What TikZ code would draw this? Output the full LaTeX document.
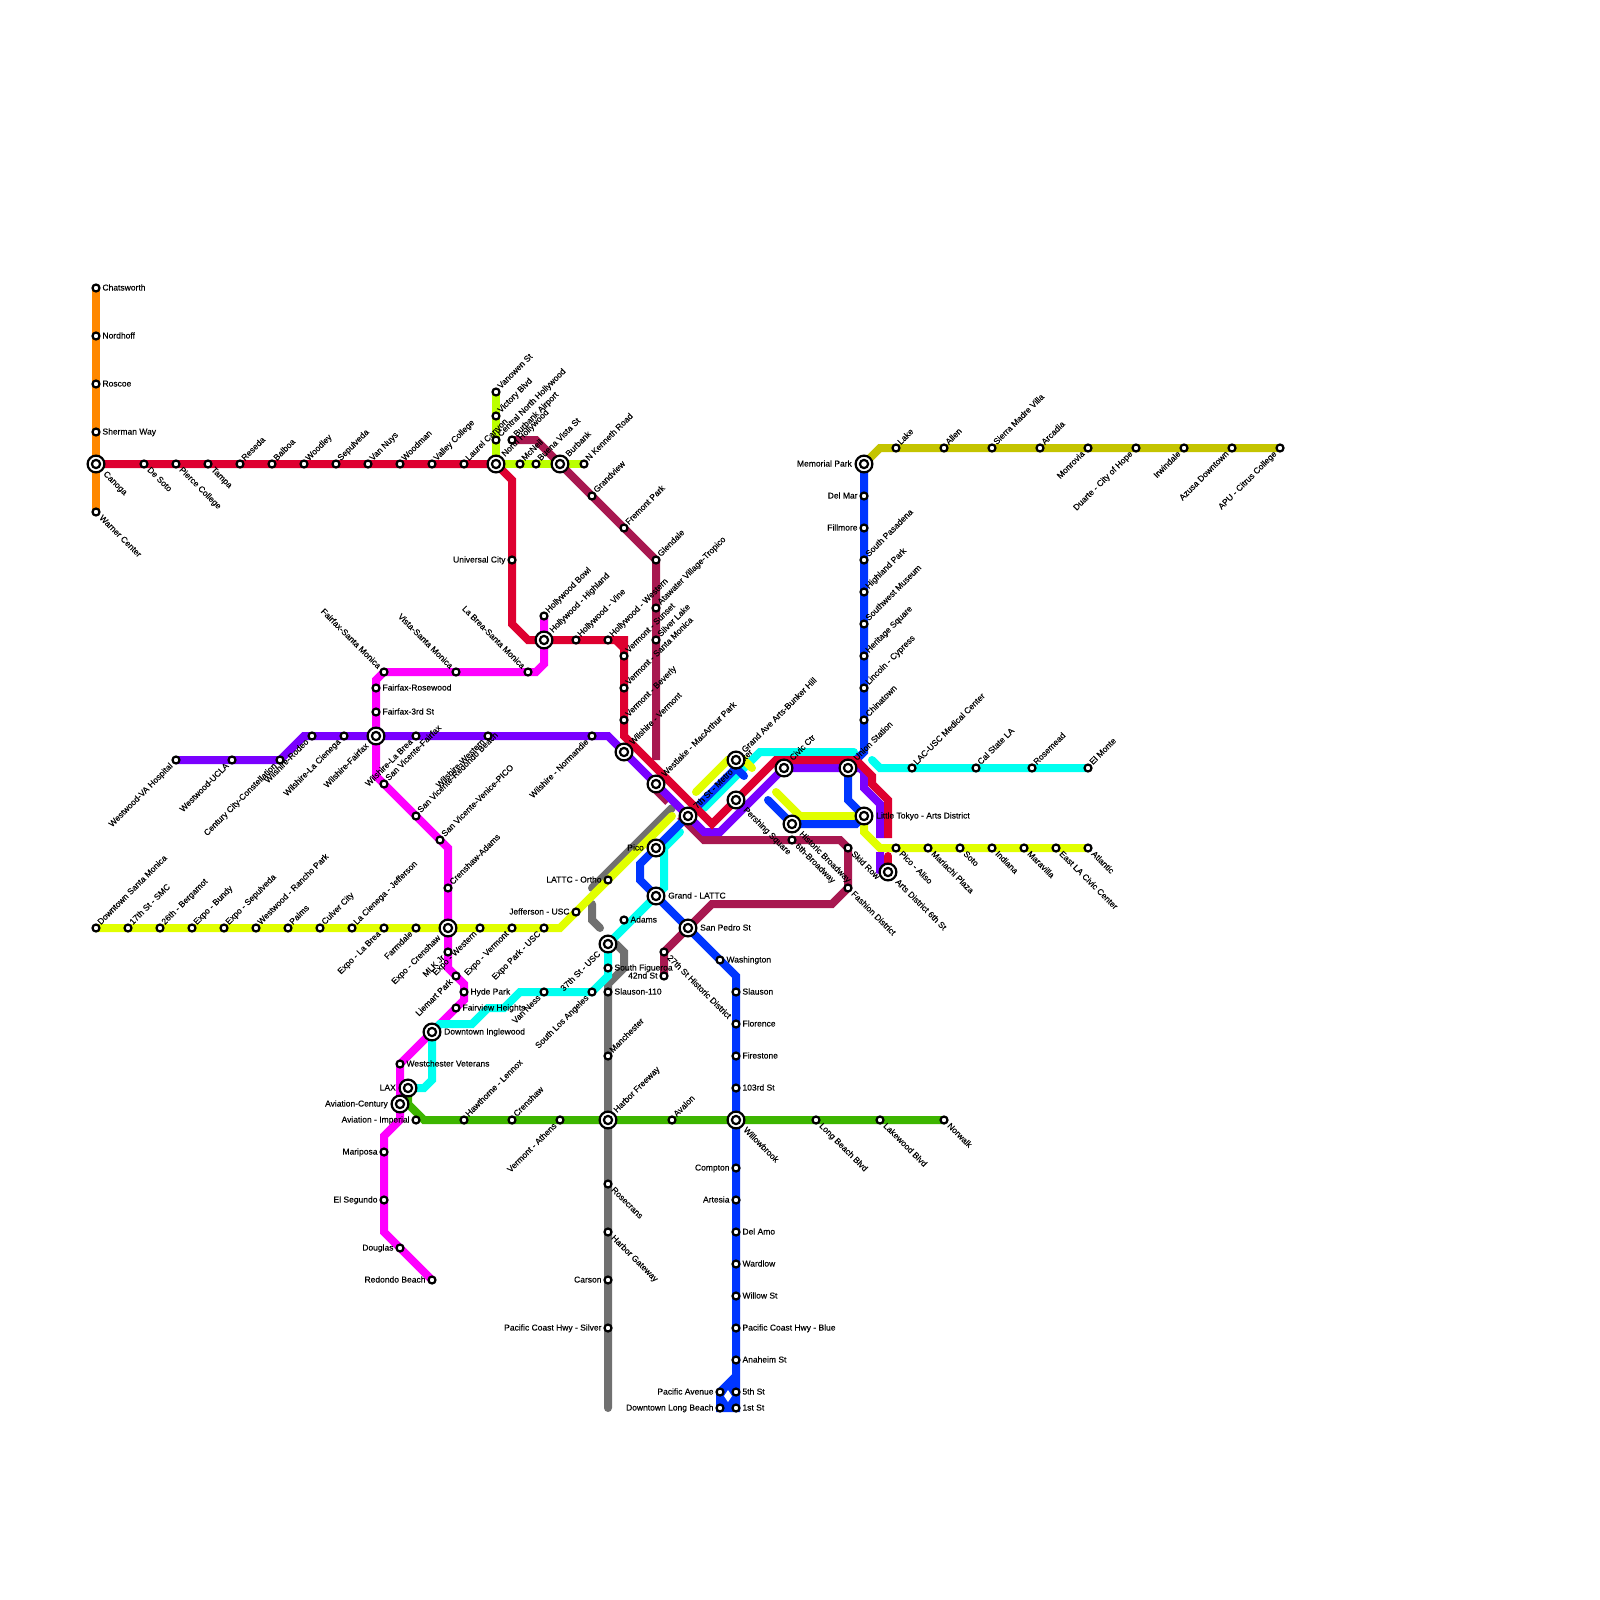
\documentclass[tikz,border=0pt]{standalone}
\usepackage{fontspec}
\setmainfont[FakeBold=0.12]{Liberation Sans}
\usetikzlibrary{calc}
\pgfdeclarelayer{lines}
\pgfsetlayers{lines,main}
\definecolor{cred}{HTML}{DE0030}
\definecolor{cpurple}{HTML}{7A00FF}
\definecolor{cmag}{HTML}{FF00FF}
\definecolor{ccyan}{HTML}{00FFF0}
\definecolor{cblue}{HTML}{0036FF}
\definecolor{cyel}{HTML}{E1FF00}
\definecolor{clime}{HTML}{BBFF00}
\definecolor{corange}{HTML}{FF8800}
\definecolor{cmaroon}{HTML}{A81850}
\definecolor{cgray}{HTML}{707070}
\definecolor{cgreen}{HTML}{3DB500}
\definecolor{colive}{HTML}{C4C400}
\tikzset{
  metro/.style={line width=8pt,line join=miter,miter limit=10,line cap=round},
  flat/.style={metro,line cap=butt},
  halt/.style={circle,draw=black,fill=white,line width=2.2pt,minimum size=7pt,inner sep=0pt},
  hub/.style={circle,draw=black,fill=white,line width=2.2pt,minimum size=16.8pt,inner sep=0pt},
  hubcore/.style={circle,draw=black,fill=white,line width=2.2pt,minimum size=8.2pt,inner sep=0pt},
  lab/.style={inner sep=0pt,font=\fontsize{8.5}{10}\selectfont,text=black,text height=6.5pt,text depth=1.5pt},
}
% \St{name}{x}{y}{dir}{label}, \Hb the same for an interchange
\newcommand{\PutLab}[3]{% dir, distance, text; uses \curname
  \ifcase#1\relax
    \node[lab,anchor=west] at ($(\curname.center)+(#2,0)$) {#3};\or
    \node[lab,anchor=east] at ($(\curname.center)+(-#2,0)$) {#3};\or
    \node[lab,anchor=west,rotate=45] at ($(\curname.center)+(#2*0.72-1.5,-#2*0.72)$) {#3};\or
    \node[lab,anchor=west,rotate=-45] at ($(\curname.center)+(#2*0.72,#2*0.72)$) {#3};\or
    \node[lab,anchor=east,rotate=45] at ($(\curname.center)+(-#2*0.72,#2*0.72)$) {#3};\or
    \node[lab,anchor=east,rotate=-45] at ($(\curname.center)+(-#2*0.72,-#2*0.72)$) {#3};\fi}
\newcommand{\St}[5]{\node[halt] (#1) at (#2,#3) {};\def\curname{#1}\PutLab{#4}{6.3}{#5}}
\newcommand{\Hb}[5]{\node[hub] (#1) at (#2,#3) {};\node[hubcore] (#1c) at (#2,#3) {};\def\curname{#1}\PutLab{#4}{12}{#5}}
\begin{document}
\begin{tikzpicture}[x=1pt,y=-1pt]
\useasboundingbox (0,0) rectangle (1600,1600);
% directions: 0 E, 1 W, 2 NE, 3 SE, 4 SW, 5 NW
\St{chatsworth}{96}{288}{0}{Chatsworth}
\St{nordhoff}{96}{336}{0}{Nordhoff}
\St{roscoe}{96}{384}{0}{Roscoe}
\St{sherman}{96}{432}{0}{Sherman Way}
\Hb{canoga}{96}{464}{3}{Canoga}
\St{warner}{96}{512}{3}{Warner Center}
\St{desoto}{144}{464}{3}{De Soto}
\St{pierce}{176}{464}{3}{Pierce College}
\St{tampa}{208}{464}{3}{Tampa}
\St{reseda}{240}{464}{2}{Reseda}
\St{balboa}{272}{464}{2}{Balboa}
\St{woodley}{304}{464}{2}{Woodley}
\St{sepulveda}{336}{464}{2}{Sepulveda}
\St{vannuys}{368}{464}{2}{Van Nuys}
\St{woodman}{400}{464}{2}{Woodman}
\St{valley}{432}{464}{2}{Valley College}
\St{laurel}{464}{464}{2}{Laurel Canyon}
\Hb{nohollywood}{496}{464}{2}{North Hollywood}
\St{vanowen}{496}{392}{2}{Vanowen St}
\St{victory}{496}{416}{2}{Victory Blvd}
\St{centralnh}{496}{440}{2}{Central North Hollywood}
\St{burbankair}{512}{440}{2}{Burbank Airport}
\St{mcneil}{520}{464}{2}{McNeil}
\St{buenavista}{536}{464}{2}{Buena Vista St}
\Hb{burbank}{560}{464}{2}{Burbank}
\St{kenneth}{584}{464}{2}{N Kenneth Road}
\St{grandview}{592}{496}{2}{Grandview}
\St{fremont}{624}{528}{2}{Fremont Park}
\St{glendale}{656}{560}{2}{Glendale}
\St{atwater}{656}{608}{2}{Atawater Village-Tropico}
\St{silverlake}{656}{640}{2}{Silver Lake}
\St{universal}{512}{560}{1}{Universal City}
\St{bowl}{544}{616}{2}{Hollywood Bowl}
\Hb{highland}{544}{640}{2}{Hollywood - Highland}
\St{vine}{576}{640}{2}{Hollywood - Vine}
\St{hwestern}{608}{640}{2}{Hollywood - Western}
\St{vsunset}{624}{656}{2}{Vermont - Sunset}
\St{vsanta}{624}{688}{2}{Vermont - Santa Monica}
\St{vbeverly}{624}{720}{2}{Vermont - Beverly}
\Hb{wvermont}{624}{752}{2}{Wilshire - Vermont}
\Hb{westlake}{656}{784}{2}{Westlake - MacArthur Park}
\Hb{seventh}{688}{816}{2}{7th St - Metro Center}
\Hb{grandave}{736}{760}{2}{Grand Ave Arts-Bunker Hill}
\Hb{pershing}{736}{800}{3}{Pershing Square}
\Hb{civic}{784}{768}{2}{Civic Ctr}
\Hb{union}{848}{768}{2}{Union Station}
\Hb{tokyo}{864}{816}{0}{Little Tokyo - Arts District}
\Hb{historic}{792}{824}{3}{Historic Broadway}
\St{sixth}{792}{840}{3}{6th-Broadway}
\St{skid}{848}{848}{3}{Skid Row}
\St{fashion}{848}{888}{3}{Fashion District}
\Hb{arts}{888}{872}{3}{Arts District 6th St}
\St{aliso}{896}{848}{3}{Pico - Aliso}
\St{mariachi}{928}{848}{3}{Mariachi Plaza}
\St{soto}{960}{848}{3}{Soto}
\St{indiana}{992}{848}{3}{Indiana}
\St{maravilla}{1024}{848}{3}{Maravilla}
\St{eastla}{1056}{848}{3}{East LA Civic Center}
\St{atlantic}{1088}{848}{3}{Atlantic}
\Hb{memorial}{864}{464}{1}{Memorial Park}
\St{delmar}{864}{496}{1}{Del Mar}
\St{fillmore}{864}{528}{1}{Fillmore}
\St{spasadena}{864}{560}{2}{South Pasadena}
\St{highlandpk}{864}{592}{2}{Highland Park}
\St{swmuseum}{864}{624}{2}{Southwest Museum}
\St{heritage}{864}{656}{2}{Heritage Square}
\St{lincoln}{864}{688}{2}{Lincoln - Cypress}
\St{chinatown}{864}{720}{2}{Chinatown}
\St{lake}{896}{448}{2}{Lake}
\St{allen}{944}{448}{2}{Allen}
\St{sierra}{992}{448}{2}{Sierra Madre Villa}
\St{arcadia}{1040}{448}{2}{Arcadia}
\St{monrovia}{1088}{448}{4}{Monrovia}
\St{duarte}{1136}{448}{4}{Duarte - City of Hope}
\St{irwindale}{1184}{448}{4}{Irwindale}
\St{azusa}{1232}{448}{4}{Azusa Downtown}
\St{apu}{1280}{448}{4}{APU - Citrus College}
\St{lacusc}{912}{768}{2}{LAC-USC Medical Center}
\St{calstate}{976}{768}{2}{Cal State LA}
\St{rosemead}{1032}{768}{2}{Rosemead}
\St{elmonte}{1088}{768}{2}{El Monte}
\St{vahospital}{176}{760}{4}{Westwood-VA Hospital}
\St{ucla}{232}{760}{4}{Westwood-UCLA}
\St{century}{280}{760}{4}{Century City-Constellation}
\St{rodeo}{312}{736}{4}{Wilshire-Rodeo}
\St{lacienega}{344}{736}{4}{Wilshire-La Cienega}
\Hb{wfairfax}{376}{736}{4}{Wilshire-Fairfax}
\St{labrea}{416}{736}{4}{Wilshire-La Brea}
\St{wwestern}{488}{736}{4}{Wilshire-Western}
\St{normandie}{592}{736}{4}{Wilshire - Normandie}
\St{fairfaxsm}{384}{672}{5}{Fairfax-Santa Monica}
\St{vistasm}{456}{672}{5}{Vista-Santa Monica}
\St{labreasm}{528}{672}{5}{La Brea-Santa Monica}
\St{rosewood}{376}{688}{0}{Fairfax-Rosewood}
\St{third}{376}{712}{0}{Fairfax-3rd St}
\St{svfairfax}{384}{784}{2}{San Vicente-Fairfax}
\St{svredondo}{416}{816}{2}{San Vicente-Redondo Beach}
\St{svvenice}{440}{840}{2}{San Vicente-Venice-PICO}
\St{crenadams}{448}{888}{2}{Crenshaw-Adams}
\St{santamonica}{96}{928}{2}{Downtown Santa Monica}
\St{smc}{128}{928}{2}{17th St - SMC}
\St{bergamot}{160}{928}{2}{26th - Bergamot}
\St{bundy}{192}{928}{2}{Expo - Bundy}
\St{exposep}{224}{928}{2}{Expo - Sepulveda}
\St{rancho}{256}{928}{2}{Westwood - Rancho Park}
\St{palms}{288}{928}{2}{Palms}
\St{culver}{320}{928}{2}{Culver City}
\St{lacjeff}{352}{928}{2}{La Cienega - Jefferson}
\St{expolabrea}{384}{928}{4}{Expo - La Brea}
\St{farmdale}{416}{928}{4}{Farmdale}
\Hb{expocren}{448}{928}{4}{Expo - Crenshaw}
\St{expowest}{480}{928}{4}{Expo - Western}
\St{expoverm}{512}{928}{4}{Expo - Vermont}
\St{expopark}{544}{928}{4}{Expo Park - USC}
\St{jefferson}{576}{912}{1}{Jefferson - USC}
\St{ortho}{608}{880}{1}{LATTC - Ortho}
\Hb{pico}{656}{848}{1}{Pico}
\Hb{grandlattc}{656}{896}{0}{Grand - LATTC}
\Hb{sanpedro}{688}{928}{0}{San Pedro St}
\St{adams}{624}{920}{0}{Adams}
\Hb{thirtyseven}{608}{944}{4}{37th St - USC}
\St{sfig}{608}{968}{0}{South Figueroa}
\St{twentyseven}{664}{952}{3}{27th St Historic District}
\St{fortytwo}{664}{976}{1}{42nd St}
\St{slauson}{608}{992}{0}{Slauson-110}
\St{manchester}{608}{1056}{2}{Manchester}
\Hb{harbor}{608}{1120}{2}{Harbor Freeway}
\St{rosecrans}{608}{1184}{3}{Rosecrans}
\St{gateway}{608}{1232}{3}{Harbor Gateway}
\St{carson}{608}{1280}{1}{Carson}
\St{pchsilver}{608}{1328}{1}{Pacific Coast Hwy - Silver}
\St{washington}{720}{960}{0}{Washington}
\St{bslauson}{736}{992}{0}{Slauson}
\St{florence}{736}{1024}{0}{Florence}
\St{firestone}{736}{1056}{0}{Firestone}
\St{third103}{736}{1088}{0}{103rd St}
\Hb{willowbrook}{736}{1120}{3}{Willowbrook}
\St{compton}{736}{1168}{1}{Compton}
\St{artesia}{736}{1200}{1}{Artesia}
\St{delamo}{736}{1232}{0}{Del Amo}
\St{wardlow}{736}{1264}{0}{Wardlow}
\St{willowst}{736}{1296}{0}{Willow St}
\St{pchblue}{736}{1328}{0}{Pacific Coast Hwy - Blue}
\St{anaheim}{736}{1360}{0}{Anaheim St}
\St{fifth}{736}{1392}{0}{5th St}
\St{first}{736}{1408}{0}{1st St}
\St{pacificave}{720}{1392}{1}{Pacific Avenue}
\St{longbeach}{720}{1408}{1}{Downtown Long Beach}
\St{avalon}{672}{1120}{2}{Avalon}
\St{lbblvd}{816}{1120}{3}{Long Beach Blvd}
\St{lakewood}{880}{1120}{3}{Lakewood Blvd}
\St{norwalk}{944}{1120}{3}{Norwalk}
\St{athens}{560}{1120}{4}{Vermont - Athens}
\St{crenshaw}{512}{1120}{2}{Crenshaw}
\St{hawthorne}{464}{1120}{2}{Hawthorne - Lennox}
\St{imperial}{416}{1120}{1}{Aviation - Imperial}
\Hb{lax}{408}{1088}{1}{LAX}
\Hb{century2}{400}{1104}{1}{Aviation-Century}
\Hb{inglewood}{432}{1032}{0}{Downtown Inglewood}
\St{westchester}{400}{1064}{0}{Westchester Veterans}
\St{vanness}{544}{992}{4}{Van Ness}
\St{southla}{592}{992}{4}{South Los Angeles}
\St{mlk}{448}{952}{4}{MLK Jr}
\St{liemart}{456}{976}{4}{Liemart Park}
\St{hyde}{464}{992}{0}{Hyde Park}
\St{fairview}{456}{1008}{0}{Fairview Heights}
\St{mariposa}{384}{1152}{1}{Mariposa}
\St{elsegundo}{384}{1200}{1}{El Segundo}
\St{douglas}{400}{1248}{1}{Douglas}
\St{redondo}{432}{1280}{1}{Redondo Beach}
\begin{pgfonlayer}{lines}
\fill[white] (0,0) rectangle (1600,1600);
% orange
\draw[metro,corange] (chatsworth.center) -- (warner.center);
% lime
\draw[flat,clime] (vanowen.center) -- (nohollywood.center) -- (kenneth.center);
% olive
\draw[flat,colive] (memorial.center) -- (880,448) -- (apu.center);
% green
\draw[flat,cgreen] (lax.center) -- (408,1104) -- (424,1120) -- (norwalk.center);
% gray
\draw[metro,cgray] (592,888) -- (672,808);
\draw[metro,cgray] (592,904) -- (592,920) -- (600,928);
\draw[metro,cgray] (616,944) -- (624,952) -- (624,968) -- (608,984) -- (608,1408);
% magenta
\draw[flat,cmag] (bowl.center) -- (544,664) -- (536,672) -- (fairfaxsm.center) -- (376,680) -- (376,776) -- (440,840) -- (448,848) -- (448,968) -- (464,984) -- (464,1000) -- (inglewood.center) -- (westchester.center) -- (400,1120) -- (384,1136) -- (384,1232) -- (redondo.center);
% cyan
\draw[flat,ccyan] (thirtyseven.center) -- (608,976) -- (southla.center) -- (520,992) -- (504,1008) -- (488,1008) -- (472,1024) -- (440,1024) -- (inglewood.center) -- (432,1080) -- (424,1088) -- (lax.center);
\draw[metro,ccyan] (thirtyseven.center) -- (664,888) -- (664,848) -- (680,832);
\draw[metro,ccyan] (704,808) -- (752,760) -- (760,752) -- (854,752);
\draw[metro,ccyan] (872,760) -- (880,768) -- (elmonte.center);
% yellow
\draw[metro,cyel] (santamonica.center) -- (560,928) -- (672,816);
\draw[metro,cyel] (696,792) -- (728,760) -- (744,760) -- (752,768);
\draw[metro,cyel] (776,792) -- (800,816) -- (tokyo.center) -- (864,832) -- (880,848) -- (atlantic.center);
% maroon
\draw[flat,cmaroon] (burbankair.center) -- (536,440) -- (glendale.center) -- (656,760);
\draw[flat,cmaroon] (656,790) -- (668,802);
\draw[flat,cmaroon] (680,816) -- (704,840) -- (840,840) -- (848,848) -- (848,888) -- (832,904) -- (712,904) -- (twentyseven.center) -- (fortytwo.center);
% blue
\draw[flat,cblue] (memorial.center) -- (864,752) -- (union.center) -- (848,800) -- (tokyo.center) -- (856,824) -- (historic.center);
\draw[metro,cblue] (historic.center) -- (768,800);
\draw[metro,cblue] (744,776) -- (736,768) -- (640,864) -- (640,880) -- (720,960) -- (736,976) -- (first.center) -- (longbeach.center) -- (pacificave.center) -- (736,1376);
\fill[cblue] (736,1376) -- (pacificave.center) -- (longbeach.center) -- (first.center) -- cycle;
% purple
\draw[flat,cpurple] (vahospital.center) -- (280,760) -- (304,736) -- (608,736) -- (704,832) -- (720,832) -- (784,768) -- (union.center) -- (860,768) -- (864,772) -- (864,788) -- (880,804) -- (880,838);
\draw[metro,cpurple] (880,856) -- (880,866);
\draw[flat,cpurple] (880,852) -- (880,870) -- (arts.center);
% red
\draw[flat,cred] (canoga.center) -- (nohollywood.center) -- (512,480) -- (512,624) -- (528,640) -- (624,640) -- (624,736) -- (712,824) -- (776,760) -- (856,760) -- (872,776) -- (872,784) -- (888,800) -- (888,838);
\draw[metro,cred] (888,856) -- (arts.center);
\fill[cred] (610,640) -- (624,640) -- (624,654) -- cycle;
\end{pgfonlayer}
% white hole of the Long Beach loop
\fill[white] (728,1390) -- (732,1396) -- (728,1402) -- (724,1396) -- cycle;
\end{tikzpicture}
\end{document}
